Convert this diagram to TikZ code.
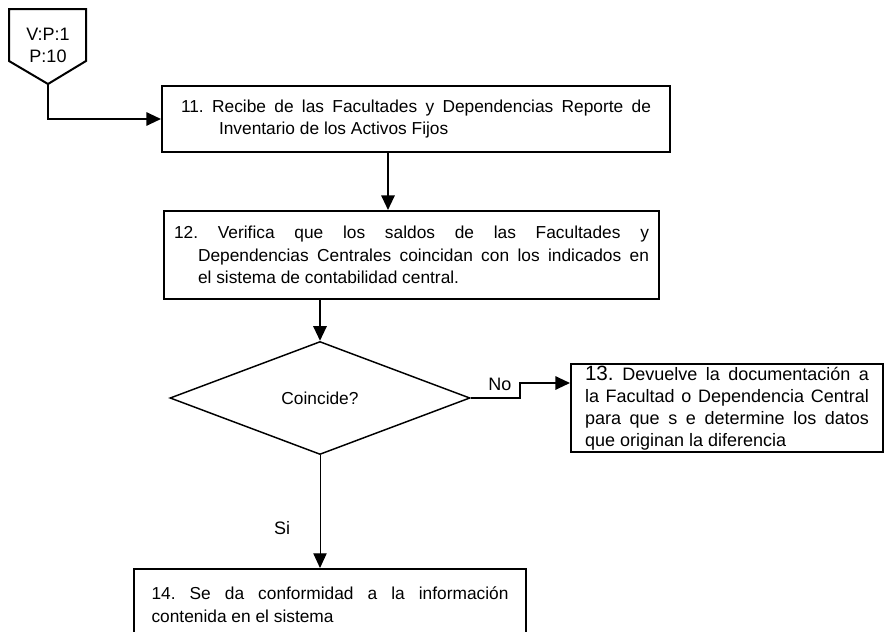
\documentclass[tikz,border=0pt]{standalone}
\usepackage{fontspec}
\setmainfont{Liberation Sans}
\usetikzlibrary{shapes.geometric,arrows.meta,positioning,calc}

\tikzset{
  proc/.style={draw, line width=1.5pt, anchor=north west, inner sep=0pt,
    align=justify, font=\fontsize{13}{17}\selectfont},
  dec/.style={draw, diamond, aspect=2.65, line width=1.1pt, inner sep=0pt,
    font=\fontsize{13}{17}\selectfont},
  arr/.style={line width=1.5pt, -{Triangle[length=11pt,width=10pt]}},
  lbl/.style={font=\fontsize{13.5}{16.5}\selectfont},
}
% hanging indent after the step number, no hyphens
\newcommand{\hang}[1]{\frenchspacing\hangindent=#1\hangafter=1\tolerance=10000\hyphenpenalty=10000\relax}

\begin{document}
\begin{tikzpicture}[x=0.75pt, y=-0.75pt]
    \useasboundingbox (0,0) rectangle (893,632);
    \fill[white] (0,0) rectangle (893,632);
    \clip (0,0) rectangle (893,632);

    % off-page connector
    \coordinate (vptip) at (48,84);
    \draw[line width=1.5pt] (9,9) -- (86,9) -- (86,61) -- (vptip) -- (9,61) -- cycle;
    \node[lbl, align=center] (vp) at (48,45) {V:P:1\\P:10};

    % steps
    \node[proc, minimum width=381pt, minimum height=49.5pt, text width=352.5pt] (b11) at (161,85)
        {\hang{28.5pt}11. Recibe de las Facultades y Dependencias Reporte de\linebreak
         Inventario de los Activos Fijos\par};
    \node[proc, minimum width=371.25pt, minimum height=66pt, text width=356.25pt] (b12) at (163,210)
        {\hang{18pt}12. Verifica que los saldos de las Facultades y\linebreak
         Dependencias Centrales coincidan con los indicados en\linebreak
         el sistema de contabilidad central.\par\vspace{4pt}};
    \node[dec, minimum width=225pt, minimum height=84.75pt] (chk) at (320,398) {Coincide?};
    \node[proc, minimum width=234pt, minimum height=66pt, text width=213pt,
          font=\fontsize{13.5}{16.5}\selectfont] (b13) at (570,363)
        {\hang{0pt}{\fontsize{15.5}{16}\selectfont 13.} Devuelve la documentación a\linebreak
         la Facultad o Dependencia Central\linebreak
         para que s e determine los datos\linebreak
         que originan la diferencia\par};
    \node[proc, minimum width=294pt, minimum height=54pt, text width=267.75pt] (b14) at (133,568)
        {\hang{0pt}14. Se da conformidad a la información\linebreak
         contenida en el sistema\par};

    % connectors
    \coordinate (c1) at (388,0);
    \coordinate (nostep) at (520,383);
    \draw[arr] (vptip) |- (b11.west);
    \draw[arr] (b11.south -| c1) -- (b12.north -| c1);
    \draw[arr] (b12.south -| chk.north) -- (chk.north);
    \draw[arr] (chk.east) -| (nostep) -- (nostep -| b13.west);
    \draw[arr, line width=0.75pt] (chk.south) -- (chk.south |- b14.north);

    \node[lbl] (nolbl) at (500,384) {No};
    \node[lbl] (silbl) at (282,528) {Si};
\end{tikzpicture}
\end{document}
